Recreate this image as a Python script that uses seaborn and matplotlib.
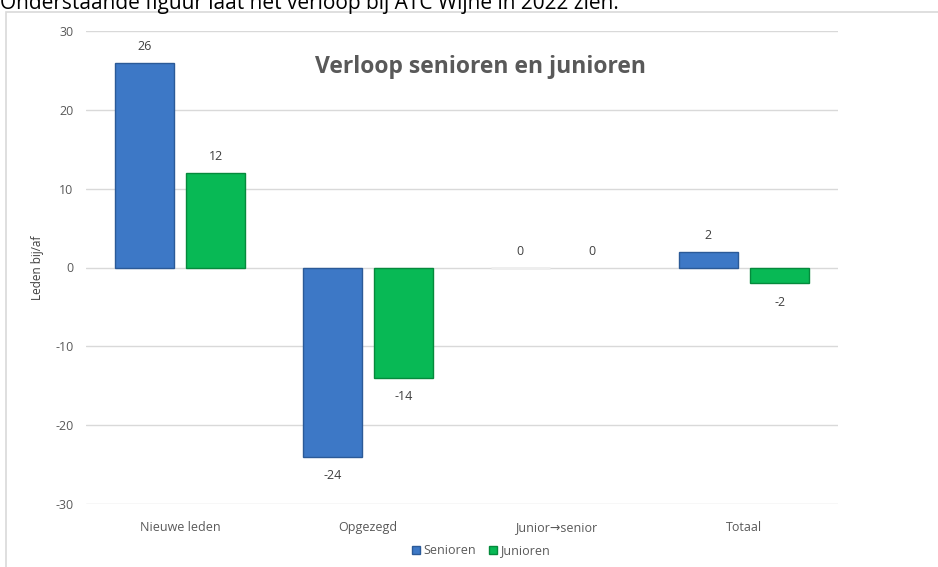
import matplotlib
matplotlib.use("Agg")
import matplotlib.pyplot as plt
import seaborn as sns
import pandas as pd
from matplotlib.patches import Rectangle
from matplotlib.lines import Line2D

categories = ["Nieuwe leden", "Opgezegd", "Junior\u2192senior", "Totaal"]
senioren = [26, -24, 0, 2]
junioren = [12, -14, 0, -2]
series_names = ["Senioren", "Junioren"]
colors = ["#3d78c6", "#08b955"]
edge_colors = ["#2b5a98", "#058a3c"]
yticks = [-30, -20, -10, 0, 10, 20, 30]

df = pd.DataFrame({
    "cat": categories * 2,
    "serie": [series_names[0]] * 4 + [series_names[1]] * 4,
    "val": senioren + junioren,
})

sns.set_theme(style="white")
plt.rcParams["font.family"] = ["Open Sans", "DejaVu Sans"]
plt.rcParams["axes.unicode_minus"] = False

W, H = 938, 567
fig = plt.figure(figsize=(W / 100, H / 100), dpi=100)
ax = fig.add_axes([86 / W, 1 - 504 / H, (838 - 86) / W, (504 - 31) / H])

sns.barplot(data=df, x="cat", y="val", hue="serie", palette=colors, saturation=1,
            width=0.76, gap=0.18, ax=ax, legend=False, zorder=3)

n = len(categories)
all_vals = senioren + junioren
for i, patch in enumerate(ax.patches[:2 * n]):
    s = i // n
    if all_vals[i] == 0:
        patch.set_edgecolor("#eeeeee" if s == 0 else "none")
        patch.set_facecolor("#eeeeee" if s == 0 else "none")
        patch.set_linewidth(2.0)
    else:
        patch.set_edgecolor(edge_colors[s])
        patch.set_linewidth(1.0)

ax.set_ylim(-30, 30)
ax.set_xlim(-0.5, n - 0.5)
ax.set_yticks(yticks)
ax.yaxis.grid(True, color="#d9d9d9", linewidth=1.0, zorder=0)
ax.set_axisbelow(True)
for sp in ax.spines.values():
    sp.set_visible(False)
ax.tick_params(axis="both", length=0, colors="#595959", labelsize=9)
ax.tick_params(axis="x", pad=12)
ax.tick_params(axis="y", pad=9)
ax.set_xlabel("")
ax.set_ylabel("Leden bij/af", fontsize=8.5, color="#404040", labelpad=8)

for c, cont in enumerate(ax.containers):
    vals = senioren if c == 0 else junioren
    for bar, v in zip(cont, vals):
        x = bar.get_x() + bar.get_width() / 2
        off = 11.5 if v >= 0 else -13.7
        ax.annotate(str(v), (x, v), xytext=(0, off), textcoords="offset points",
                    ha="center", va="center", fontsize=9, color="#404040")

fig.text(480 / W, 1 - 67 / H, "Verloop senioren en junioren", ha="center", va="center",
         fontsize=16.5, fontweight="bold", color="#595959")

handles = [Line2D([0], [0], marker="s", linestyle="none", markersize=6,
                  markerfacecolor=colors[i], markeredgecolor=edge_colors[i])
           for i in range(2)]
fig.legend(handles, series_names, loc="center", bbox_to_anchor=(480 / W, 1 - 551 / H),
           ncol=2, frameon=False, fontsize=9, handletextpad=0.1, columnspacing=0.8,
           labelcolor="#595959", handlelength=1.0)

fig.patches.append(Rectangle((6 / W, -0.1), 1.2, (H - 12) / H + 0.1, transform=fig.transFigure,
                             fill=False, edgecolor="#d9d9d9", linewidth=1.2))

fig.text(0 / W, 1 - 9 / H, "Onderstaande figuur laat het verloop bij ATC Wijhe in 2022 zien.",
         ha="left", va="baseline", fontsize=15, color="#000000")

fig.savefig("out.png", dpi=100)
